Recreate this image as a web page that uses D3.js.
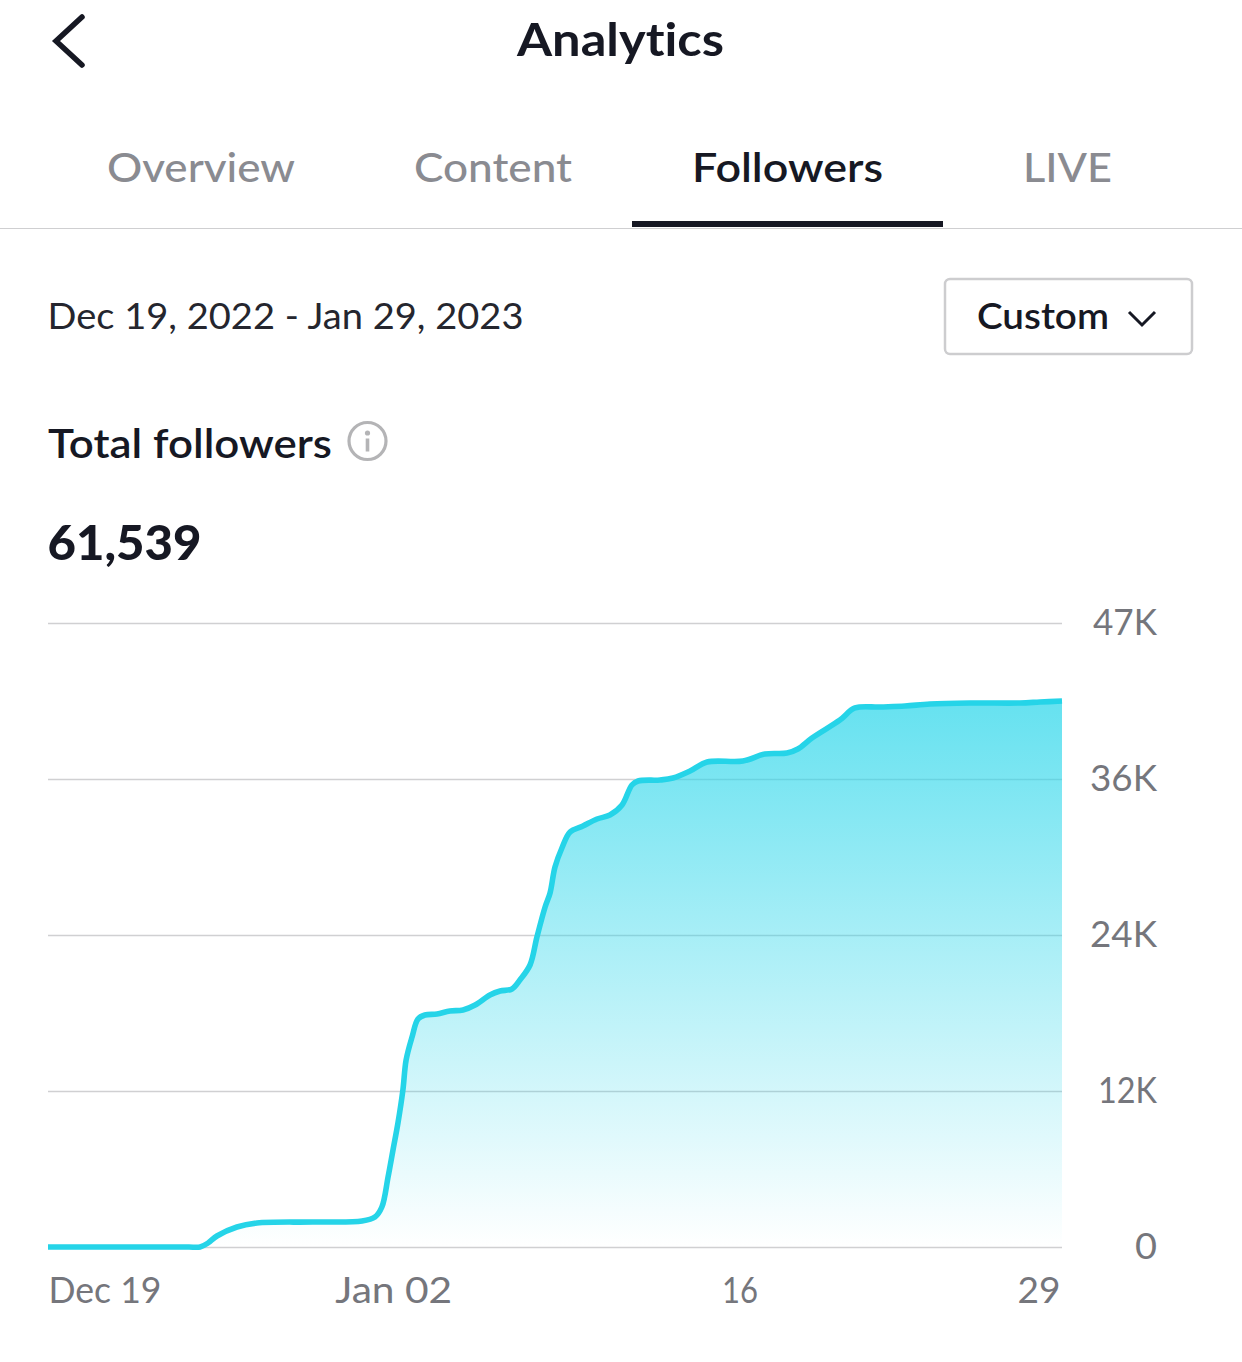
<!DOCTYPE html>
<html>
<head>
<meta charset="utf-8">
<script src="https://cdn.jsdelivr.net/npm/d3@7"></script>
<style>
html,body{margin:0;padding:0;background:#fff;}
svg{display:block;}
text{font-family:Lato,"Open Sans",sans-serif;font-variant-ligatures:none;}
</style>
</head>
<body>
<div id="chart"></div>
<script>
const dayOffsets = [0,1,2,3,4,5,5.7,6.15,6.47,6.83,7.64,8.45,10.71,12.70,13.22,13.50,13.75,13.95,14.15,14.35,14.48,14.72,14.96,15.24,15.73,16.25,16.78,17.27,17.87,18.28,18.76,19.08,19.49,19.77,20.10,20.30,20.50,20.78,21.11,21.63,22.20,22.72,23.21,23.61,23.86,24.75,25.27,25.96,26.65,28.10,28.99,29.88,30.32,30.89,32.02,32.63,33.64,34.65,35.66,37.28,39.30,40.11,41];
const followers = [0,0,0,0,0,0,0,0,308,846,1538,1846,1923,2000,2308,3077,5385,7462,9538,12077,14385,16154,17538,17846,17923,18154,18231,18615,19385,19692,19846,20538,21692,23846,26154,27231,29231,30692,31923,32385,32923,33231,34000,35538,35846,35923,36077,36615,37308,37385,37923,38000,38308,39154,40538,41462,41538,41615,41769,41846,41846,41923,42000];
const yTicks = [0,12000,24000,36000,48000];
const yTickLabels = ["0","12K","24K","36K","47K"];
const xTicks = [0,14,28,41];
const xTickLabels = ["Dec 19","Jan 02","16","29"];
const tabs = ["Overview","Content","Followers","LIVE"];

const dark="#161823", grey="#8a8b91", axisGrey="#75767c", cyan="#25D4E8";
const svg=d3.select("#chart").append("svg").attr("width",1242).attr("height",1362);
const defs=svg.append("defs");
const grad=defs.append("linearGradient").attr("id","g").attr("x1",0).attr("x2",0).attr("y1",0).attr("y2",1);
grad.append("stop").attr("offset","0%").attr("stop-color","#2ad6ea").attr("stop-opacity",0.72);
grad.append("stop").attr("offset","100%").attr("stop-color","#2ad6ea").attr("stop-opacity",0);

function t(x,y,s,size,weight,fill,anchor,w){
  const e=svg.append("text").attr("x",x).attr("y",y).text(s).attr("font-size",size).attr("font-weight",weight).attr("fill",fill).attr("text-anchor",anchor||"start");
  if(w) e.attr("textLength",w).attr("lengthAdjust","spacingAndGlyphs");
  return e;
}
// header
svg.append("path").attr("d","M82 17 L56 41 L82 65").attr("fill","none").attr("stroke",dark).attr("stroke-width",5.5).attr("stroke-linecap","round").attr("stroke-linejoin","miter");
t(517,56,"Analytics",46,700,dark,"start",207);
const tabX=[107,414,692,1023], tabW=[188,158,191,89];
tabs.forEach((s,i)=>t(tabX[i],182,s,41,i==2?600:500,i==2?dark:grey,"start",tabW[i]));
svg.append("line").attr("x1",0).attr("x2",1242).attr("y1",228.5).attr("y2",228.5).attr("stroke","#cfcfd1").attr("stroke-width",1.2);
svg.append("rect").attr("x",632).attr("y",221).attr("width",311).attr("height",6).attr("fill",dark);
// date row
t(47.5,329,"Dec 19, 2022 - Jan 29, 2023",37,400,"#25262e","start",476);
svg.append("rect").attr("x",945).attr("y",279).attr("width",247).attr("height",75).attr("rx",5).attr("fill","#fff").attr("stroke","#cdcdcf").attr("stroke-width",2.5);
t(977,329,"Custom",36,600,dark,"start",132);
svg.append("path").attr("d","M1129 312 L1142 325 L1155 312").attr("fill","none").attr("stroke",dark).attr("stroke-width",3);
// total
t(48,458,"Total followers",41,600,dark,"start",284);
svg.append("circle").attr("cx",367.5).attr("cy",441).attr("r",18.5).attr("fill","none").attr("stroke","#b4b4b6").attr("stroke-width",3.2);
svg.append("circle").attr("cx",367.5).attr("cy",433).attr("r",2.6).attr("fill","#b4b4b6");
svg.append("rect").attr("x",365.7).attr("y",438.5).attr("width",3.6).attr("height",13).attr("fill","#b4b4b6");
t(47.5,560,"61,539",48,900,dark,"start",154);

// chart
const x=d3.scaleLinear().domain([0,41]).range([48,1062]);
const y=d3.scaleLinear().domain([0,48000]).range([1247,623]);
const series=dayOffsets.map((d,i)=>({d,v:followers[i]}));

const yLabelWidths=[22,59,67,67,64];
const yAxis=d3.axisRight(y).tickValues(yTicks).tickSize(0).tickPadding(0).tickFormat((d,i)=>yTickLabels[i]);
const gy=svg.append("g").attr("transform","translate(1157,-1)").call(yAxis);
gy.select(".domain").remove();
gy.selectAll("text").attr("text-anchor","end").attr("x",0).attr("font-size",37).attr("fill",axisGrey).attr("font-family","Lato").attr("dy","0.35em")
  .attr("textLength",(d,i)=>yLabelWidths[i]).attr("lengthAdjust","spacingAndGlyphs");

const grid=d3.axisLeft(y).tickValues(yTicks).tickSize(1014).tickFormat("");
const gg=svg.append("g").attr("transform","translate(1062,0)").call(grid);
gg.select(".domain").remove();
gg.selectAll("line").attr("stroke","#d0d0d2").attr("stroke-width",1.6);

const curve=d3.curveCatmullRom.alpha(0.5);
svg.append("path").datum(series).attr("fill","url(#g)")
  .attr("d",d3.area().x(d=>x(d.d)).y0(y(0)).y1(d=>y(d.v)).curve(curve));
svg.append("path").datum(series).attr("fill","none").attr("stroke",cyan).attr("stroke-width",5.6).attr("stroke-linejoin","round")
  .attr("d",d3.line().x(d=>x(d.d)).y(d=>y(d.v)).curve(curve));

const xLabelWidths=[113,117,36,43], xLabelNudge=[0,-1,-1,-2];
const xAxis=d3.axisBottom(x).tickValues(xTicks).tickSize(0).tickPadding(0).tickFormat((d,i)=>xTickLabels[i]);
const gx=svg.append("g").attr("transform","translate(0,1303)").call(xAxis);
gx.select(".domain").remove();
gx.selectAll("text").attr("font-size",37).attr("fill",axisGrey).attr("font-family","Lato").attr("dy",0)
  .attr("x",(d,i)=>xLabelNudge[i])
  .attr("textLength",(d,i)=>xLabelWidths[i]).attr("lengthAdjust","spacingAndGlyphs")
  .attr("text-anchor",(d,i)=>i==0?"start":i==3?"end":"middle");
</script>
</body>
</html>
